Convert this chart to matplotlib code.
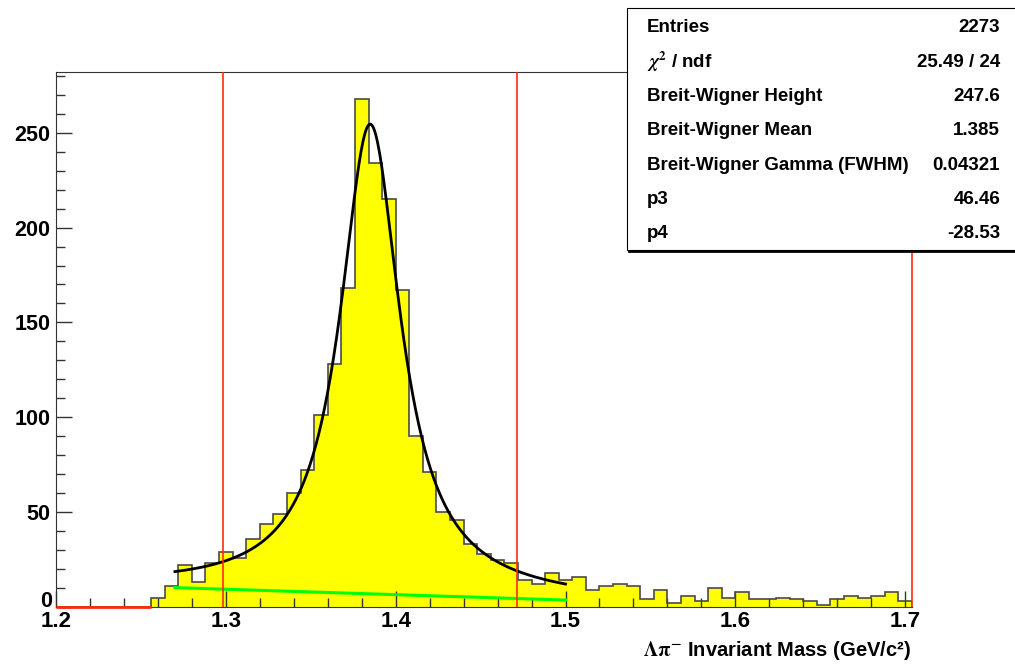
import numpy as np
import matplotlib.pyplot as plt
from matplotlib.patches import Rectangle
from matplotlib.ticker import MultipleLocator

plt.rcParams['font.family'] = ['Liberation Sans', 'DejaVu Sans']
plt.rcParams['font.weight'] = 'bold'
plt.rcParams['mathtext.fontset'] = 'stix'

# histogram: 0.008 GeV bins starting at 1.2
x_lo = 1.2
bin_w = 0.008
counts = [0, 0, 0, 0, 0, 0, 0,
          5, 11, 22, 13, 23, 29, 26, 36, 44, 49,
          60, 72, 101, 128, 168, 268, 234, 215, 167, 90,
          71, 50, 46, 33, 28, 25, 23, 14, 12, 18,
          14, 16, 9, 11, 12, 11, 4, 9, 2, 6,
          3, 10, 5, 8, 4, 4, 5, 4, 3, 1,
          4, 6, 5, 6, 8, 3]

# fit results (Breit-Wigner + linear background)
bw_height = 247.6
bw_mean = 1.385
bw_gamma = 0.04321
p3 = 46.46
p4 = -28.53
fit_lo, fit_hi = 1.27, 1.5

stat_names = ['Entries', r'$\chi^{2}$ / ndf', 'Breit-Wigner Height', 'Breit-Wigner Mean',
              'Breit-Wigner Gamma (FWHM)', 'p3', 'p4']
stat_values = ['2273', '25.49 / 24', '247.6', '1.385', '0.04321', '46.46', '-28.53']

edges = x_lo + bin_w * np.arange(len(counts) + 1)

fig = plt.figure(figsize=(10.15, 6.65), dpi=100)
ax = fig.add_axes([0.0552, 0.0872, 0.8433, 0.8045])

ax.stairs(counts, edges, fill=True, color='#ffff00', zorder=1)
ax.stairs(counts, edges, color='#4a4a4a', lw=1.2, zorder=2)

# fit curves
xx = np.linspace(fit_lo, fit_hi, 400)
bg = p3 + p4 * xx
bw = bw_height * (bw_gamma / 2) ** 2 / ((xx - bw_mean) ** 2 + (bw_gamma / 2) ** 2)
ax.plot(xx, bg, color='#00ff00', lw=2.2, zorder=3)
ax.plot(xx, bw + bg, color='black', lw=2, zorder=4)

# mass window: mean +- 2 gamma
for cut in (bw_mean - 2 * bw_gamma, bw_mean + 2 * bw_gamma):
    ax.axvline(cut, color='#ff2a10', lw=1.2, zorder=5)

first = np.nonzero(counts)[0][0]
ax.hlines(0, edges[0], edges[first], color='#ff2a10', lw=2, zorder=5, clip_on=False)

ax.set_xlim(x_lo, edges[-1])
ax.set_ylim(0, 282)

for s in ['left', 'top', 'bottom']:
    ax.spines[s].set_color('#333333')
ax.spines['right'].set_color('#ff2a10')
ax.spines['right'].set_linewidth(1.2)

ax.xaxis.set_major_locator(MultipleLocator(0.1))
ax.xaxis.set_minor_locator(MultipleLocator(0.02))
ax.yaxis.set_major_locator(MultipleLocator(50))
ax.yaxis.set_minor_locator(MultipleLocator(10))
ax.tick_params(direction='in', which='major', length=11.5, width=1, color='#333333')
ax.tick_params(direction='in', which='minor', length=6.5, width=1, color='#333333')
ax.tick_params(axis='x', labelsize=16, pad=3)
ax.tick_params(axis='y', labelsize=15.5, pad=4)
ax.xaxis.set_major_formatter(plt.FuncFormatter(lambda v, p: f'{v:.1f}'))
# zero label sits a bit higher, like ROOT draws it
ax.yaxis.set_major_formatter(plt.FuncFormatter(lambda v, p: '' if v == 0 else f'{v:.0f}'))
ax.annotate('0', xy=(0, 0), xycoords=('axes fraction', 'data'), xytext=(-3, 4),
            textcoords='offset points', ha='right', va='center', fontsize=15.5)

fig.text(0.897, 1 - 650 / 665, r'$\Lambda\mathrm{\pi}^{-}$ Invariant Mass (GeV/c²)',
         ha='right', va='center', fontsize=14.5)

# stats box
fig.patches.append(Rectangle((627 / 1015, 1 - 250 / 665), 0.5, 242 / 665,
                             transform=fig.transFigure, fc='white', ec='black', lw=0.8, zorder=5))
fig.lines.append(plt.Line2D([629 / 1015, 1], [1 - 251 / 665] * 2, transform=fig.transFigure,
                            color='black', lw=2, zorder=6))
for i, (name, val) in enumerate(zip(stat_names, stat_values)):
    y = 1 - (28 + 34.3 * i) / 665
    fig.text(647 / 1015, y, name, va='center', fontsize=13.5, zorder=7)
    fig.text(1000 / 1015, y, val, va='center', ha='right', fontsize=13.5, zorder=7)

fig.savefig('out.png', dpi=100)
